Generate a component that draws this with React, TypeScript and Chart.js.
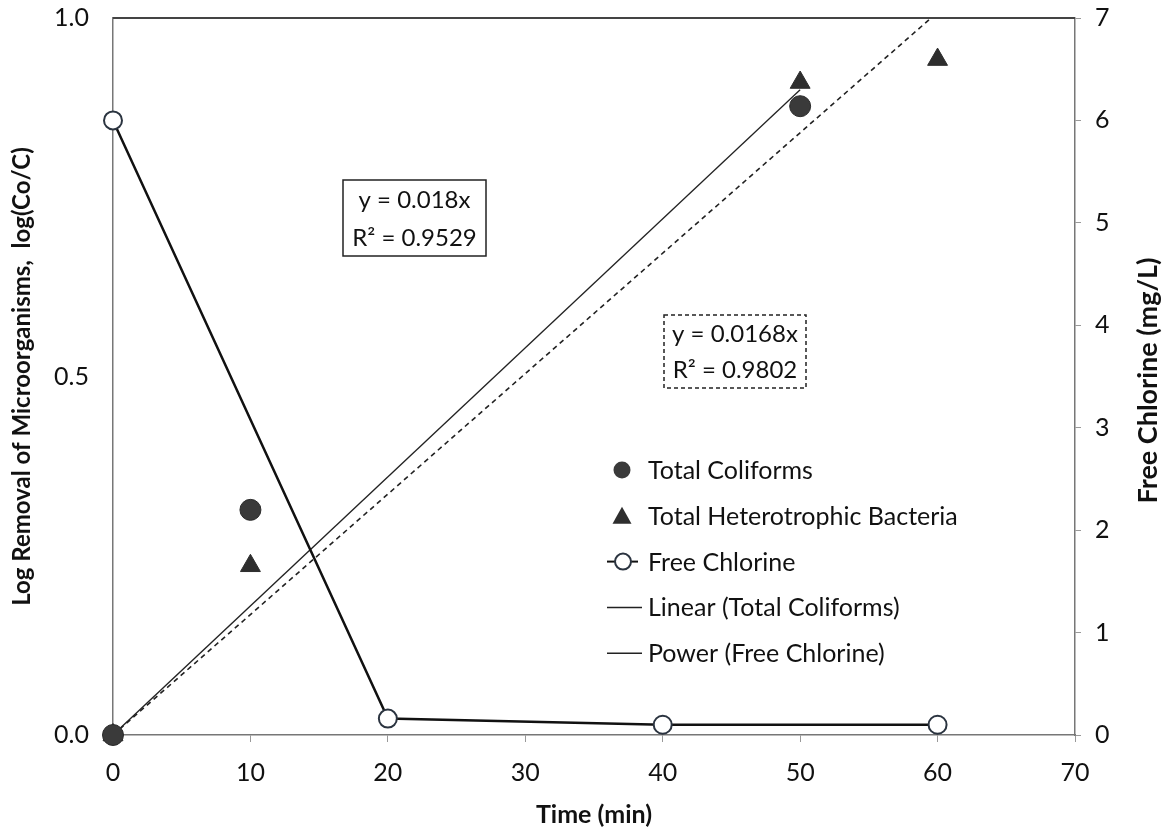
import React, { useEffect, useRef } from "react";
import { Chart, registerables } from "chart.js";

Chart.register(...registerables);

// ---- data ----
const coliformTime = [0, 10, 50];
const coliformLogRemoval = [0, 0.314, 0.877];

const thbTime = [0, 10, 50, 60];
const thbLogRemoval = [0, 0.236, 0.91, 0.942];

const chlorineTime = [0, 20, 40, 60];
const chlorineMgL = [6.0, 0.16, 0.1, 0.1];

const linearColiformTime = [0, 50];
const linearColiformValue = [0, 0.9];

const dashedFitTime = [0, 60];
const dashedFitValue = [0, 1.008];

const xTicks = [0, 10, 20, 30, 40, 50, 60, 70];
const yLeftTicks = [0, 0.5, 1.0];
const yRightTicks = [0, 1, 2, 3, 4, 5, 6, 7];

const legendLabels = [
  "Total Coliforms",
  "Total Heterotrophic Bacteria",
  "Free Chlorine",
  "Linear (Total Coliforms)",
  "Power (Free Chlorine)",
];

const fitSolidText = ["y = 0.018x", "R\u00B2 = 0.9529"];
const fitDashedText = ["y = 0.0168x", "R\u00B2 = 0.9802"];

const FONT = "Lato, 'Open Sans', sans-serif";

const pts = (xs: number[], ys: number[]) => xs.map((x, i) => ({ x, y: ys[i] }));

const zeroPad = (s: any) => {
  s.paddingTop = 0;
  s.paddingBottom = 0;
  s.paddingLeft = 0;
  s.paddingRight = 0;
};

const extrasPlugin = {
  id: "extras",
  afterDraw(chart: any) {
    const ctx = chart.ctx as CanvasRenderingContext2D;
    const a = chart.chartArea;
    ctx.save();
    // top frame line
    ctx.strokeStyle = "#444";
    ctx.lineWidth = 2;
    ctx.beginPath();
    ctx.moveTo(a.left, a.top);
    ctx.lineTo(a.right, a.top);
    ctx.stroke();

    // right axis title (reads bottom-to-top)
    ctx.save();
    ctx.translate(1148, (a.top + a.bottom) / 2 + 4);
    ctx.rotate(-Math.PI / 2);
    ctx.fillStyle = "#111";
    ctx.font = `bold 27px ${FONT}`;
    ctx.textAlign = "center";
    ctx.textBaseline = "middle";
    ctx.fillText("Free Chlorine (mg/L)", 0, 0);
    ctx.restore();

    // fit annotation boxes
    const drawBox = (lx: number, ty: number, w: number, h: number, lines: string[], dashed: boolean) => {
      ctx.save();
      ctx.fillStyle = "#fff";
      ctx.fillRect(lx, ty, w, h);
      ctx.strokeStyle = "#222";
      ctx.lineWidth = 1.5;
      if (dashed) ctx.setLineDash([4, 3]);
      ctx.strokeRect(lx, ty, w, h);
      ctx.setLineDash([]);
      ctx.fillStyle = "#111";
      ctx.font = `24px ${FONT}`;
      ctx.textAlign = "center";
      ctx.textBaseline = "middle";
      lines.forEach((t, i) => ctx.fillText(t, lx + w / 2, ty + h / 4 + (i * h) / 2 + 1));
      ctx.restore();
    };
    drawBox(a.left + 230, a.top + 162, 143, 76, fitSolidText, false);
    drawBox(a.left + 551, a.top + 297, 142, 73, fitDashedText, true);

    // legend
    const lx = a.left + 494;
    const ly0 = a.top + 452;
    const gap = 45.8;
    ctx.font = `25px ${FONT}`;
    ctx.textBaseline = "middle";
    ctx.textAlign = "left";
    legendLabels.forEach((label, i) => {
      const y = ly0 + i * gap;
      const sx = lx + 15;
      ctx.save();
      if (i === 0) {
        ctx.fillStyle = "#3a3a3a";
        ctx.beginPath();
        ctx.arc(sx, y, 8.5, 0, Math.PI * 2);
        ctx.fill();
      } else if (i === 1) {
        ctx.fillStyle = "#2e2e2e";
        ctx.beginPath();
        ctx.moveTo(sx, y - 9);
        ctx.lineTo(sx + 9.5, y + 8);
        ctx.lineTo(sx - 9.5, y + 8);
        ctx.closePath();
        ctx.fill();
      } else if (i === 2) {
        ctx.strokeStyle = "#111";
        ctx.lineWidth = 2;
        ctx.beginPath();
        ctx.moveTo(lx, y);
        ctx.lineTo(lx + 31, y);
        ctx.stroke();
        ctx.fillStyle = "#fff";
        ctx.strokeStyle = "#2b3440";
        ctx.beginPath();
        ctx.arc(sx + 1, y, 8, 0, Math.PI * 2);
        ctx.fill();
        ctx.stroke();
      } else {
        ctx.strokeStyle = "#222";
        ctx.lineWidth = 1.5;
        ctx.beginPath();
        ctx.moveTo(lx, y);
        ctx.lineTo(lx + 35, y);
        ctx.stroke();
      }
      ctx.restore();
      ctx.fillStyle = "#111";
      ctx.fillText(label, lx + 41, y + 1);
    });
    ctx.restore();
  },
};

export default function App() {
  const canvasRef = useRef<HTMLCanvasElement | null>(null);

  useEffect(() => {
    document.body.style.margin = "0";
    const canvas = canvasRef.current;
    if (!canvas) return;
    Chart.defaults.font.family = FONT;
    Chart.defaults.color = "#111";

    const chart = new Chart(canvas, {
      type: "scatter",
      data: {
        datasets: [
          {
            label: legendLabels[0],
            data: pts(coliformTime, coliformLogRemoval),
            yAxisID: "y",
            pointStyle: "circle",
            pointRadius: 10.5,
            backgroundColor: "#3a3a3a",
            borderColor: "#2a2a2a",
            borderWidth: 1,
            showLine: false,
            clip: false,
            order: 0,
          },
          {
            label: legendLabels[1],
            data: pts(thbTime, thbLogRemoval),
            yAxisID: "y",
            pointStyle: "triangle",
            pointRadius: 11.5,
            backgroundColor: "#2e2e2e",
            borderColor: "#2e2e2e",
            borderWidth: 1,
            showLine: false,
            clip: false,
            order: 1,
          },
          {
            label: legendLabels[2],
            data: pts(chlorineTime, chlorineMgL),
            yAxisID: "y1",
            type: "line",
            showLine: true,
            borderColor: "#111",
            borderWidth: 2.5,
            pointStyle: "circle",
            pointRadius: 9,
            pointBackgroundColor: "#fff",
            pointBorderColor: "#2b3440",
            pointBorderWidth: 2,
            clip: false,
            order: 2,
          } as any,
          {
            label: legendLabels[3],
            data: pts(linearColiformTime, linearColiformValue),
            yAxisID: "y",
            type: "line",
            showLine: true,
            borderColor: "#222",
            borderWidth: 1.3,
            pointRadius: 0,
            order: 3,
          } as any,
          {
            label: legendLabels[4],
            data: pts(dashedFitTime, dashedFitValue),
            yAxisID: "y",
            type: "line",
            showLine: true,
            borderColor: "#222",
            borderWidth: 1.6,
            borderDash: [5, 4],
            pointRadius: 0,
            order: 4,
          } as any,
        ],
      },
      options: {
        responsive: false,
        animation: false,
        layout: { padding: { top: 18, left: 0, right: 0, bottom: 0 } },
        plugins: {
          legend: { display: false },
          tooltip: { enabled: false },
        },
        scales: {
          x: {
            type: "linear",
            position: "bottom",
            min: 0,
            max: 70,
            afterBuildTicks: (s: any) => {
              s.ticks = xTicks.map((v) => ({ value: v }));
            },
            ticks: { font: { size: 25 }, padding: 16, color: "#111" },
            grid: { drawOnChartArea: false, drawTicks: true, tickLength: 7, color: "#999" },
            border: { display: true, color: "#777", width: 1.5 },
            title: {
              display: true,
              text: "Time (min)",
              font: { size: 25, weight: "bold" },
              color: "#111",
              padding: { top: 0, bottom: 2 },
            },
            afterFit: (s: any) => {
              s.height = 97;
              zeroPad(s);
            },
          },
          y: {
            type: "linear",
            position: "left",
            min: 0,
            max: 1,
            afterBuildTicks: (s: any) => {
              s.ticks = yLeftTicks.map((v) => ({ value: v }));
            },
            ticks: {
              font: { size: 25 },
              padding: 24,
              color: "#111",
              callback: (v: any) => Number(v).toFixed(1),
            },
            grid: { drawOnChartArea: false, drawTicks: false },
            border: { display: true, color: "#777", width: 1.5 },
            title: {
              display: true,
              text: "Log Removal of Microorganisms,  log(Co/C)",
              font: { size: 24, weight: "bold" },
              color: "#111",
              padding: { top: 8, bottom: 0 },
            },
            afterFit: (s: any) => {
              s.width = 113;
              zeroPad(s);
            },
          },
          y1: {
            type: "linear",
            position: "right",
            min: 0,
            max: 7,
            afterBuildTicks: (s: any) => {
              s.ticks = yRightTicks.map((v) => ({ value: v }));
            },
            ticks: { font: { size: 25 }, padding: 14, color: "#111" },
            grid: { drawOnChartArea: false, drawTicks: true, tickLength: 6, color: "#999" },
            border: { display: true, color: "#777", width: 1.5 },
            title: { display: false },
            afterFit: (s: any) => {
              s.width = 90;
              zeroPad(s);
            },
          },
        },
      },
      plugins: [extrasPlugin],
    });

    return () => chart.destroy();
  }, []);

  return (
    <div style={{ width: 1165, height: 832, background: "#fff" }}>
      <canvas ref={canvasRef} width={1165} height={832} style={{ display: "block" }} />
    </div>
  );
}
